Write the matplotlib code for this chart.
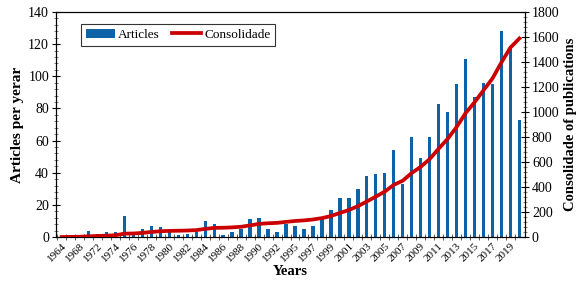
import matplotlib
matplotlib.use("Agg")
import matplotlib.pyplot as plt
import numpy as np
from matplotlib.ticker import MultipleLocator, FixedLocator

plt.rcParams['font.family'] = ['Liberation Serif', 'DejaVu Serif']

# one category per year with publications (1966/1970/1993 stand for the unlabeled gaps)
years = ['1964', '1966', '1968', '1970', '1972', '1973', '1974', '1975', '1976', '1977',
         '1978', '1979', '1980', '1981', '1982', '1983', '1984', '1985', '1986', '1987',
         '1988', '1989', '1990', '1991', '1992', '1993', '1995', '1996', '1997', '1998',
         '1999', '2000', '2001', '2002', '2003', '2004', '2005', '2006', '2007', '2008',
         '2009', '2010', '2011', '2012', '2013', '2014', '2015', '2016', '2017', '2018',
         '2019', '2020']
articles = [0, 1, 1, 4, 2, 3, 3, 13, 1, 5, 7, 6, 3, 1,
            2, 3, 10, 8, 1, 3, 5, 11, 12, 5, 3, 8,
            7, 5, 7, 11, 17, 24, 24, 30, 38, 39, 40, 54,
            33, 62, 49, 62, 83, 78, 95, 111, 87, 96, 95, 128, 119, 73]
consolidade = [0, 1, 2, 6, 8, 11, 14, 27, 28, 33, 40, 46, 49, 50,
               52, 55, 65, 73, 74, 77, 82, 93, 105, 110, 113, 121,
               128, 133, 140, 151, 168, 192, 216, 246, 284, 323, 363, 417,
               450, 512, 561, 623, 706, 784, 879, 990, 1077, 1173, 1268, 1396, 1515, 1588]

x = np.arange(len(years))

fig = plt.figure(figsize=(5.82, 2.94), dpi=100)
ax = fig.add_axes([56/582, 1-237/294, (525-56)/582, (237-12)/294])
ax2 = ax.twinx()

bars = ax.bar(x, articles, width=0.38, color='#0d62a8', label='Articles', zorder=2)
line, = ax2.plot(x, consolidade, color='#cc0000', lw=2.7, label='Consolidade', zorder=3)

ax.set_xlim(-0.63, len(years) - 1 + 0.63)
ax.set_ylim(0, 140)
ax2.set_ylim(0, 1800)

ax.yaxis.set_major_locator(MultipleLocator(20))
ax.yaxis.set_minor_locator(MultipleLocator(4))
ax2.yaxis.set_major_locator(MultipleLocator(200))
ax2.yaxis.set_minor_locator(MultipleLocator(40))

ax.set_xticks(x[::2])
ax.set_xticklabels(years[::2], rotation=45, ha='right', rotation_mode='anchor', fontsize=8)
ax.xaxis.set_minor_locator(FixedLocator(x - 0.5))
ax.tick_params(axis='x', which='major', length=0, pad=3)
ax.tick_params(axis='x', which='minor', length=5, direction='inout', color='#444444')

ax.tick_params(axis='y', which='major', length=6, direction='inout', labelsize=10, pad=2)
ax.tick_params(axis='y', which='minor', length=3, direction='inout', color='#666666')
ax2.tick_params(axis='y', which='major', length=6, direction='inout', labelsize=10, pad=2)
ax2.tick_params(axis='y', which='minor', length=3, direction='inout', color='#666666')

for a in (ax, ax2):
    for s in a.spines.values():
        s.set_linewidth(0.8)

ax.set_ylabel('Articles per yerar', fontsize=11, fontweight='bold', labelpad=3)
ax2.set_ylabel('Consolidade of publications', fontsize=10.5, fontweight='bold', labelpad=3)
ax.set_xlabel('Years', fontsize=10.5, fontweight='bold', labelpad=1)

leg = ax.legend([bars, line], ['Articles', 'Consolidade'], loc='upper left',
                bbox_to_anchor=(0.04, 0.975), ncol=2, fontsize=9.5, frameon=True,
                fancybox=False, edgecolor='black', borderpad=0.35,
                handlelength=2.2, columnspacing=0.9, handletextpad=0.25)
leg.get_frame().set_linewidth(0.8)

fig.savefig('out.png', dpi=100)
